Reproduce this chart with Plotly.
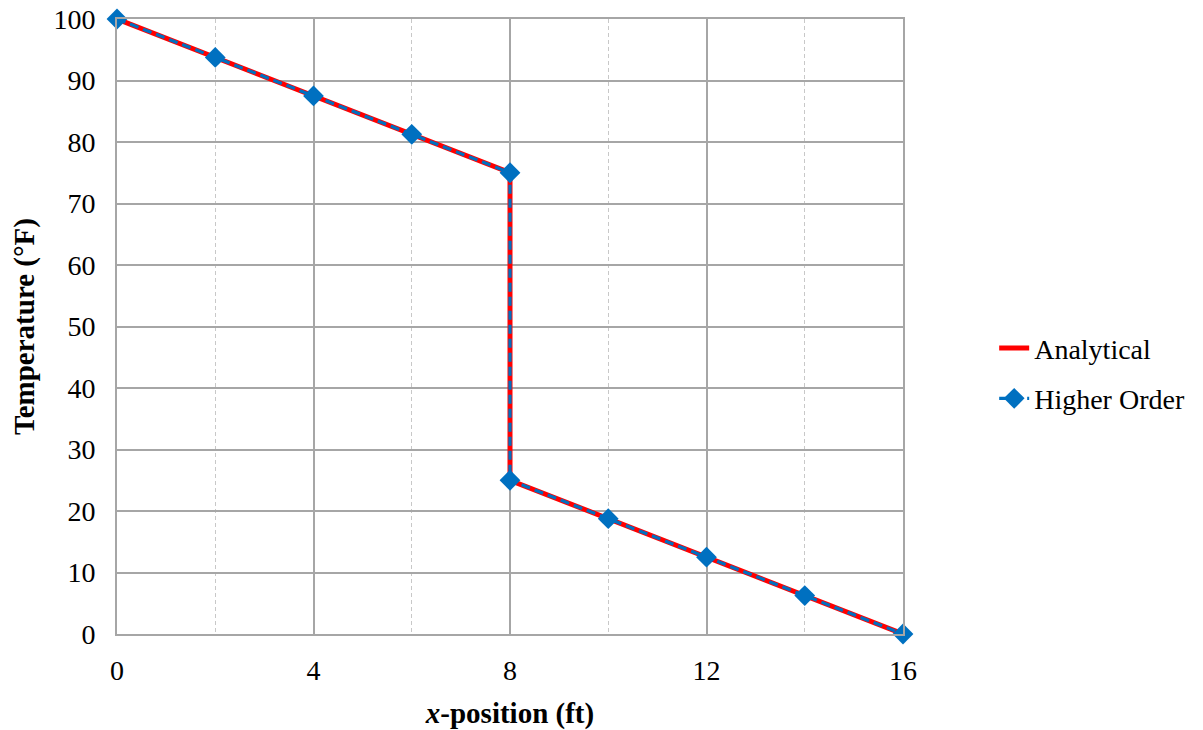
import plotly.graph_objects as go

x_pos = [0, 2, 4, 6, 8, 8, 10, 12, 14, 16]
analytical = [100, 93.75, 87.5, 81.25, 75, 25, 18.75, 12.5, 6.25, 0]
higher_order = [100, 93.75, 87.5, 81.25, 75, 25, 18.75, 12.5, 6.25, 0]

x_ticks = [0, 4, 8, 12, 16]
y_ticks = [0, 10, 20, 30, 40, 50, 60, 70, 80, 90, 100]

font_family = "Liberation Serif, Times New Roman, serif"
grid_col = "#a6a6a6"

fig = go.Figure()
fig.add_trace(go.Scatter(
    x=x_pos, y=analytical, mode="lines", name="Analytical",
    line=dict(color="#ff0000", width=5), legendgroup="a", cliponaxis=False))
fig.add_trace(go.Scatter(
    x=x_pos, y=higher_order, mode="lines+markers", name="Higher Order",
    line=dict(color="#0070c0", width=3.2, dash="9px,5px"),
    marker=dict(symbol="diamond", size=16, color="#0070c0"), legendgroup="b",
    cliponaxis=False))

fig.update_layout(
    width=1203, height=730,
    margin=dict(l=117, r=300, t=19, b=96, autoexpand=False),
    paper_bgcolor="white", plot_bgcolor="white",
    font=dict(family=font_family, size=28, color="#000000"),
    showlegend=True,
    legend=dict(x=1.116, xanchor="left", y=0.424, yanchor="middle",
                font=dict(size=28, family=font_family),
                tracegroupgap=11, bgcolor="rgba(0,0,0,0)"),
    xaxis=dict(
        range=[0, 16], tickmode="array", tickvals=x_ticks,
        tickfont=dict(size=28), automargin=False,
        showgrid=True, gridcolor=grid_col, gridwidth=2,
        showline=True, linecolor=grid_col, linewidth=2, mirror=True,
        zeroline=False, ticks="", ticklabelstandoff=10,
        minor=dict(dtick=2, showgrid=True, gridcolor="#c8c8c8", griddash="4px,3px", gridwidth=1),
        title=dict(text="<b><i>x</i>-position (ft)</b>", font=dict(size=29), standoff=19),
    ),
    yaxis=dict(
        range=[0, 100], tickmode="array", tickvals=y_ticks,
        tickfont=dict(size=28), automargin=False,
        showgrid=True, gridcolor=grid_col, gridwidth=2,
        showline=True, linecolor=grid_col, linewidth=2, mirror=True,
        zeroline=False, ticks="", ticklabelstandoff=14,
        title=dict(text="<b>Temperature (°F)</b>", font=dict(size=29), standoff=10),
    ),
)

fig.write_html("out.html", config={"displayModeBar": False},
               post_script="document.body.style.margin='0';")
